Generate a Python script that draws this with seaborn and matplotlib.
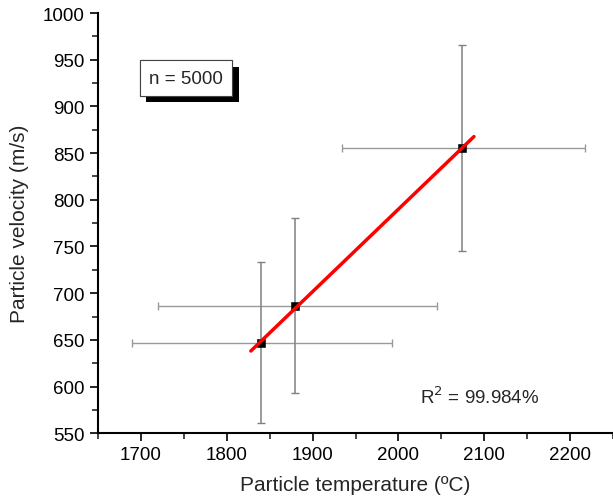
"""Particle velocity vs particle temperature with a linear fit."""
import matplotlib.pyplot as plt
import matplotlib.patheffects as pe
from matplotlib.ticker import MultipleLocator
import numpy as np
import pandas as pd
import seaborn as sns

# data
temperature = [1840, 1880, 2074]
velocity = [647, 686, 855]
temp_low = [1690, 1720, 1934]
temp_high = [1992, 2045, 2217]
vel_low = [561, 593, 745]
vel_high = [733, 781, 966]
fit_range = [1828, 2088]
n_label = 'n = 5000'
r2_label = 'R$^2$ = 99.984%'

df = pd.DataFrame({'temperature': temperature, 'velocity': velocity})

# linear fit through the points
slope, intercept = np.polyfit(df['temperature'], df['velocity'], 1)
fit = pd.DataFrame({'temperature': fit_range})
fit['velocity'] = slope * fit['temperature'] + intercept

sns.set_style('ticks')
plt.rcParams['font.family'] = ['Liberation Sans', 'DejaVu Sans']

fig = plt.figure(figsize=(6.13, 5.02), dpi=100)
ax = fig.add_axes([0.160, 0.135, 0.84, 0.837])

# error bars: horizontal lighter, vertical darker
xerr = [np.array(temperature) - np.array(temp_low),
        np.array(temp_high) - np.array(temperature)]
yerr = [np.array(velocity) - np.array(vel_low),
        np.array(vel_high) - np.array(velocity)]
ax.errorbar(temperature, velocity, xerr=xerr, fmt='none', ecolor='#999999',
            elinewidth=1.0, capsize=3, capthick=1.0, zorder=1)
ax.errorbar(temperature, velocity, yerr=yerr, fmt='none', ecolor='#808080',
            elinewidth=1.1, capsize=3, capthick=1.0, zorder=1)

sns.lineplot(data=fit, x='temperature', y='velocity', color='#ff0000',
             linewidth=2.5, ax=ax, zorder=3)
sns.scatterplot(data=df, x='temperature', y='velocity', marker='s', s=26,
                color='black', edgecolor='black', ax=ax, zorder=2)

ax.set_xlim(1650, 2250)
ax.set_ylim(550, 1000)
ax.xaxis.set_major_locator(MultipleLocator(100))
ax.xaxis.set_minor_locator(MultipleLocator(50))
ax.yaxis.set_major_locator(MultipleLocator(50))
ax.yaxis.set_minor_locator(MultipleLocator(25))
ax.set_xticks(np.arange(1700, 2201, 100))
ax.tick_params(which='major', direction='out', length=6, width=1.2,
               labelsize=13.5, colors='black')
ax.tick_params(which='minor', direction='out', length=4, width=1.2)
for s in ['left', 'bottom']:
    ax.spines[s].set_linewidth(1.5)
    ax.spines[s].set_color('black')
ax.spines['top'].set_visible(False)
ax.spines['right'].set_visible(False)

ax.set_xlabel('Particle temperature (ºC)', fontsize=15, labelpad=8)
ax.set_ylabel('Particle velocity (m/s)', fontsize=15, labelpad=10)

# annotation box with a hard black shadow
txt = ax.text(0.171, 0.845, n_label, transform=ax.transAxes, fontsize=13.5,
              ha='center', va='center',
              bbox=dict(boxstyle='square,pad=0.5', facecolor='white',
                        edgecolor='#444444', linewidth=0.8))
txt.get_bbox_patch().set_path_effects(
    [pe.withSimplePatchShadow(offset=(4.5, -4.5), shadow_rgbFace='black',
                              alpha=1.0), pe.Normal()])

ax.text(0.742, 0.088, r2_label, transform=ax.transAxes, fontsize=13.5,
        ha='center', va='center')

plt.savefig('out.png', dpi=100)
plt.close()
